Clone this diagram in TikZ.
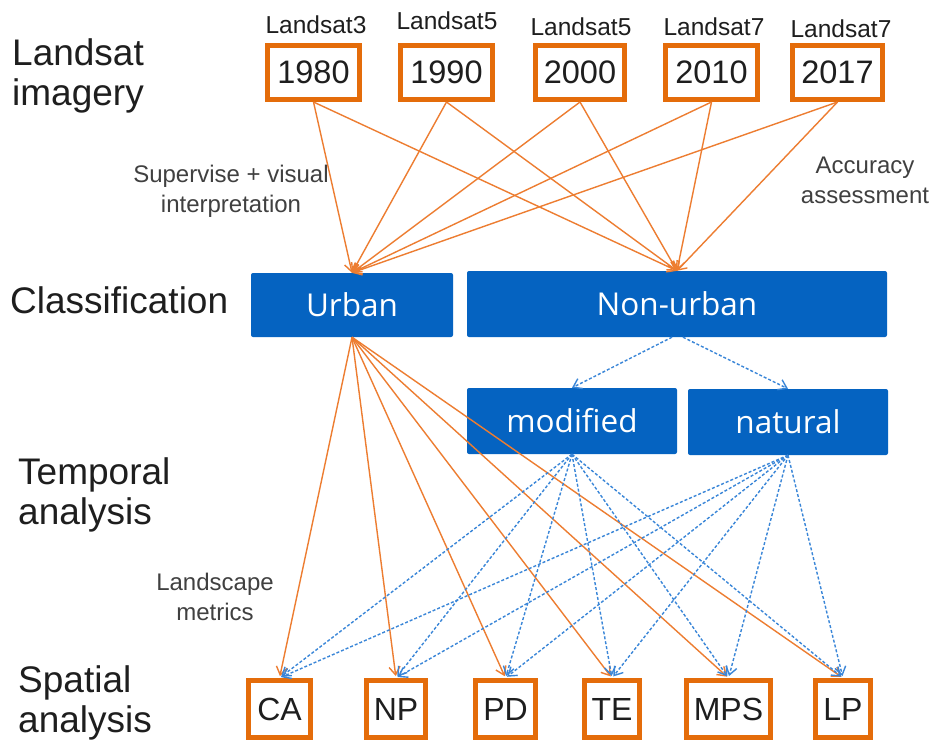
\documentclass[tikz,border=0pt]{standalone}
\usepackage{fontspec}
\setmainfont{Liberation Sans}
\newfontfamily\boxfont{Open Sans}
\usetikzlibrary{arrows.meta}
\definecolor{boxorange}{HTML}{E46C0A}
\definecolor{lineorange}{HTML}{ED7D31}
\definecolor{boxblue}{HTML}{0563C1}
\definecolor{dashblue}{HTML}{3A86D8}
\definecolor{txt}{HTML}{1E1E1E}
\begin{document}
\begin{tikzpicture}[x=1pt,y=-1pt,
  yearbox/.style={draw=boxorange, line width=5pt, fill=white, inner sep=0pt, minimum height=54pt, text=txt, font=\fontsize{32.5}{32.5}\selectfont},
  metricbox/.style={draw=boxorange, line width=5pt, fill=white, inner sep=0pt, minimum height=57pt, text=txt, font=\fontsize{32}{32}\selectfont},
  classbox/.style={fill=boxblue, rounded corners=2pt, inner sep=0pt, text=white, font=\boxfont\fontsize{31.5}{31.5}\selectfont},
  sensor/.style={text=txt, font=\fontsize{24.5}{24.5}\selectfont, inner sep=0pt},
  stage/.style={text=txt, font=\fontsize{37}{40}\selectfont, align=left, anchor=west, inner sep=0pt},
  note/.style={text=txt!85, font=\fontsize{24}{30}\selectfont, align=center, inner sep=0pt},
  orangearrow/.style={draw=lineorange, line width=1.4pt, -{Straight Barb[length=8pt,width=11pt]}},
  bluearrow/.style={draw=dashblue, line width=1.4pt, dash pattern=on 3pt off 2pt, -{Straight Barb[length=8pt,width=11pt]}}]
\useasboundingbox[fill=white] (0,0) rectangle (932,744);

% stage labels
\node[stage] (lblA) at (12,76) {Landsat\\imagery};
\node[stage] (lblB) at (10,300) {Classification};
\node[stage] (lblC) at (18,495) {Temporal\\analysis};
\node[stage] (lblD) at (18,703) {Spatial\\analysis};

% sensors
\node[sensor] (s1) at (316,25) {Landsat3};
\node[sensor] (s2) at (447,21) {Landsat5};
\node[sensor] (s3) at (581,27) {Landsat5};
\node[sensor] (s4) at (714,27) {Landsat7};
\node[sensor] (s5) at (841,29) {Landsat7};

% year boxes
\node[yearbox, minimum width=92pt] (y1) at (313.5,72.5) {1980};
\node[yearbox, minimum width=92pt] (y2) at (446.5,72.5) {1990};
\node[yearbox, minimum width=89pt] (y3) at (580,72.5) {2000};
\node[yearbox, minimum width=92pt] (y4) at (711.5,72.5) {2010};
\node[yearbox, minimum width=90pt] (y5) at (837.5,72.5) {2017};

% classification boxes
\node[classbox, minimum width=202pt, minimum height=64pt] (urban) at (352,305) {Urban};
\node[classbox, minimum width=420pt, minimum height=66pt] (nonurban) at (677,304) {Non-urban};
\node[classbox, minimum width=210pt, minimum height=66pt] (modified) at (572,421) {modified};
\node[classbox, minimum width=200pt, minimum height=66pt] (natural) at (788,422) {natural};

% metric boxes
\node[metricbox, minimum width=62pt] (ca) at (279.5,709) {CA};
\node[metricbox, minimum width=59pt] (np) at (396,709) {NP};
\node[metricbox, minimum width=60pt] (pd) at (505.5,709) {PD};
\node[metricbox, minimum width=55pt] (te) at (612,709) {TE};
\node[metricbox, minimum width=84pt] (mps) at (728.5,709) {MPS};
\node[metricbox, minimum width=55pt] (lp) at (843,709) {LP};

% notes
\node[note] (n1) at (231,191) {Supervise + visual\\interpretation};
\node[note] (n2) at (865,180) {Accuracy\\assessment};
\node[note] (n3) at (215,597) {Landscape\\metrics};

% imagery -> classification
\foreach \y in {y1,y2,y3,y4,y5}{
  \draw[orangearrow] (\y.south) -- (urban.north);
  \draw[orangearrow] (\y.south) -- (nonurban.north);
}

% non-urban split
\draw[bluearrow] ([xshift=-5pt]nonurban.south) -- (modified.north);
\draw[bluearrow] ([xshift=6pt]nonurban.south) -- (natural.north);

% urban -> metrics
\foreach \m in {ca,np,pd,te,mps,lp}{
  \draw[orangearrow, shorten >=2pt] (urban.south) -- (\m.north);
}
% modified / natural -> metrics
\foreach \m in {ca,np,pd,te,mps,lp}{
  \draw[bluearrow, shorten >=2pt] (modified.south) -- (\m.north);
  \draw[bluearrow, shorten >=2pt] (natural.south) -- (\m.north);
}
\end{tikzpicture}
\end{document}
